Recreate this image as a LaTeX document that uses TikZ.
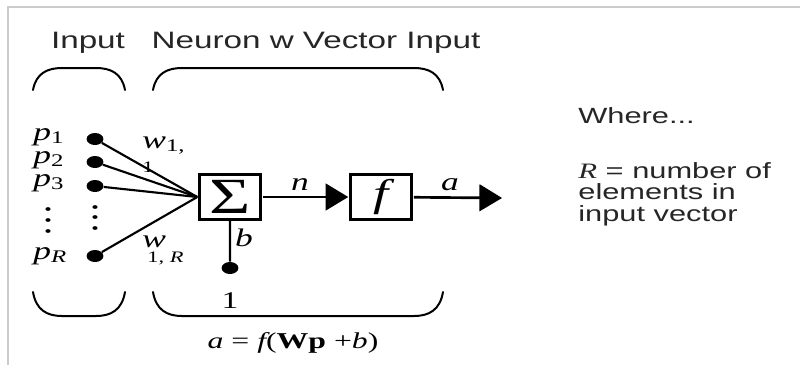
\documentclass[tikz,border=0pt]{standalone}
\usepackage{fontspec}
\setmainfont{Liberation Serif}
\setsansfont{Liberation Sans}
\usetikzlibrary{arrows.meta}

\tikzset{
    dot/.style={circle, fill=black, inner sep=0pt, minimum size=9pt},
    blockbox/.style={draw, line width=2.4pt, inner sep=0pt, minimum width=32.7pt, minimum height=33.8pt},
    wire/.style={line width=1.6pt},
    flow/.style={line width=2pt, -{Triangle[length=17pt, width=20pt]}},
    brace/.style={line width=1.5pt, line cap=round},
    title/.style={font=\sffamily\fontsize{17.8}{20}\selectfont, text=black!85, inner sep=0pt},
    note/.style={font=\sffamily\fontsize{16.5}{16}\selectfont, text=black!85, inner sep=0pt, align=left},
    lbl/.style={font=\fontsize{19}{20}\selectfont\itshape, inner sep=0pt},
    small/.style={font=\fontsize{12}{13}\selectfont\itshape, inner sep=0pt},
}

\begin{document}
\begin{tikzpicture}[x=0.5357pt, y=-0.75pt, xscale=1.4, transform shape]
    % Frame
    \useasboundingbox (0,0) rectangle (800,365);
    \fill[white] (0,0) rectangle (800,365);
    \draw[black!20, line width=0.8pt] (8,365) -- (8,7) -- (800,7);

    % Titles
    \node[title, anchor=base] (intitle) at (88,48) {Input};
    \node[title, anchor=base] (neutitle) at (316,48) {Neuron w Vector Input};

    % Braces: left/right/end/top
    \foreach \l/\r/\e/\t in {33/125/90/68, 153/443/90/68, 33/125/292/316, 153/443/292/316} {
        \draw[brace] (\l,\e) .. controls ({\l+3},{(\e+3*\t)/4}) and ({\l+14},\t) .. ({\l+29},\t)
            -- ({\r-29},\t) .. controls ({\r-14},\t) and ({\r-3},{(\e+3*\t)/4}) .. (\r,\e);
    }

    % Input dots
    \node[dot] (p1) at (95,139) {};
    \node[dot] (p2) at (95,162) {};
    \node[dot] (p3) at (95,186) {};
    \node[dot] (pR) at (95,256) {};
    \foreach \y in {207,217,228} {
        \fill (95,\y) circle (1.4pt);
    }
    \foreach \y in {209,220,231} {
        \fill (48,\y) circle (1.4pt);
    }

    % Input labels
    \node[lbl, anchor=base west] (lp1) at (33,140) {p\textsubscript{\upshape 1}};
    \node[lbl, anchor=base west] (lp2) at (33,163) {p\textsubscript{\upshape 2}};
    \node[lbl, anchor=base west] (lp3) at (33,186) {p\textsubscript{\upshape 3}};
    \node[lbl, anchor=base west] (lpR) at (33,259) {p\textsubscript{R}};

    % Blocks
    \node[blockbox, font=\fontsize{38}{38}\selectfont] (sum) at (230,197) {Σ};
    \node[blockbox, font=\fontsize{29}{29}\selectfont\itshape] (f) at (381,197) {f};
    \node[dot] (one) at (230,268) {};

    % Weighted inputs
    \foreach \p in {p1, p2, p3, pR} {
        \draw[wire] (\p) -- (sum.west);
    }
    \draw[wire] (one) -- (sum);

    % Weight labels
    \node[lbl, anchor=base west] (w11) at (142,148) {w\textsubscript{\upshape 1,}};
    \node[small, anchor=base] (w11b) at (148,172) {\upshape 1};
    \node[lbl, anchor=base west] (w1R) at (142,247) {w};
    \node[small, anchor=base west] (w1Rs) at (147,262) {\upshape 1, \itshape R};
    \node[lbl, anchor=base] (blbl) at (244,246) {b};
    \node[lbl, anchor=base, font=\fontsize{18}{18}\selectfont\upshape] (onelbl) at (230,308) {1};

    % Outputs
    \coordinate (aout) at (502,198);
    \draw[flow] (sum) -- (f);
    \draw[flow] (f) -- (aout);
    \node[lbl, anchor=base] (nlbl) at (300,190) {n};
    \node[lbl, anchor=base] (albl) at (450,190) {a};

    % Formula
    \node[lbl, anchor=base, font=\fontsize{17}{18}\selectfont\upshape] (formula) at (293,348)
        {{\itshape a} = {\itshape f}(\textbf{Wp} +{\itshape b})};

    % Note
    \node[note, anchor=base west] (where) at (578,123) {Where...};
    \node[note, anchor=base west] (rdef) at (578,221)
        {{\rmfamily\itshape R} = number of\\elements in\\input vector};
\end{tikzpicture}
\end{document}
